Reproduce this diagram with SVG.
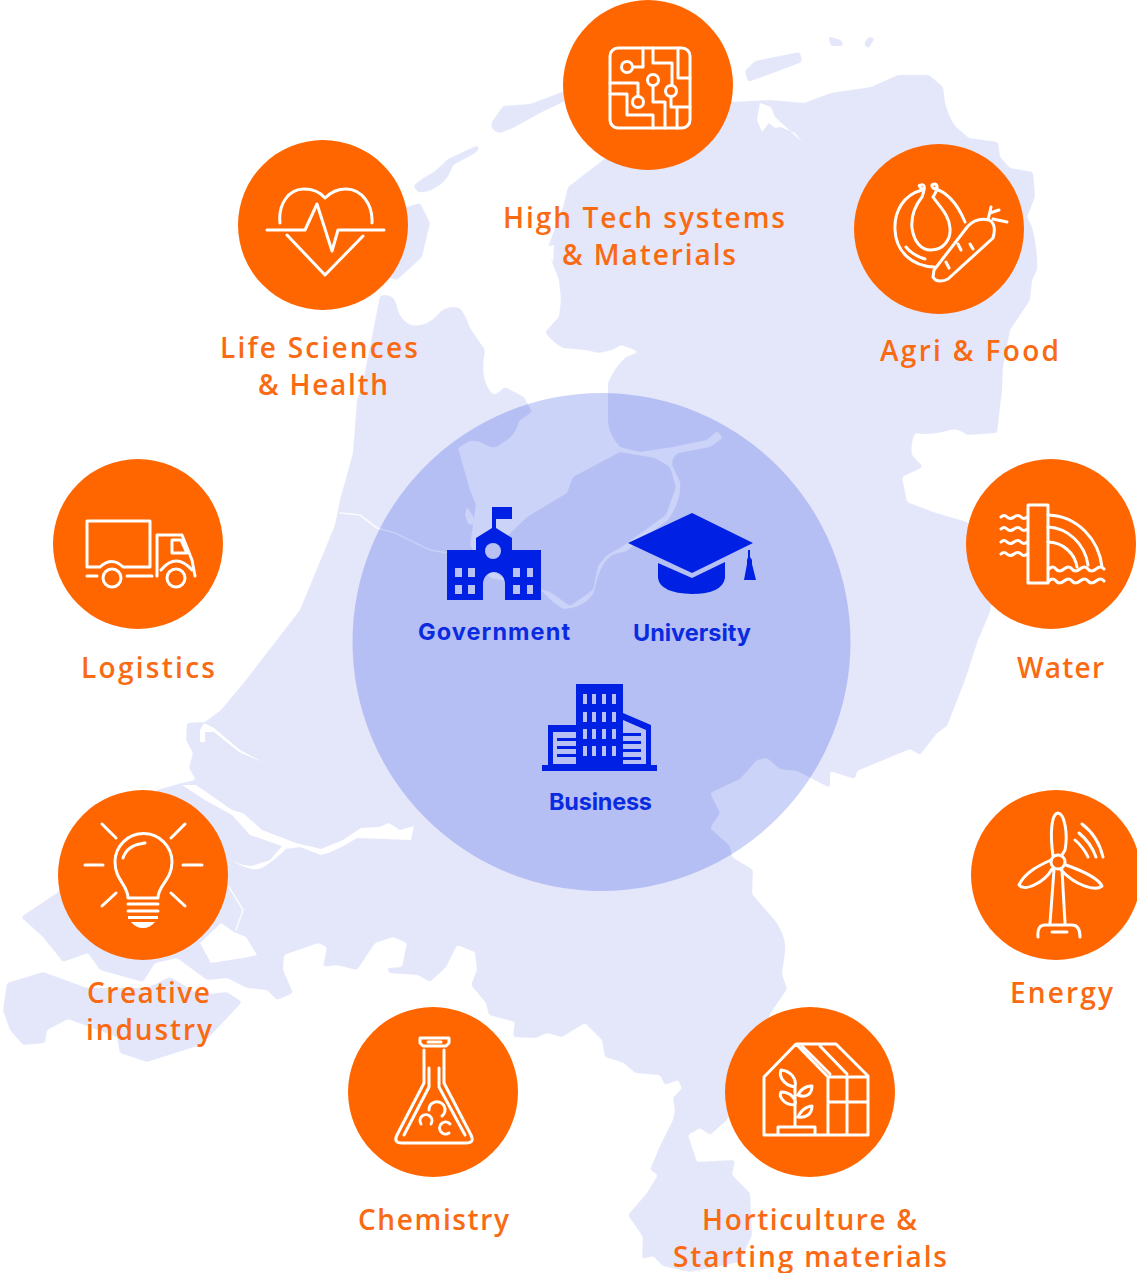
<svg xmlns="http://www.w3.org/2000/svg" width="1137" height="1273" viewBox="0 0 1137 1273">
<defs>
<filter id="round" x="-5%" y="-5%" width="110%" height="110%" color-interpolation-filters="sRGB">
<feGaussianBlur stdDeviation="1.6"/>
<feComponentTransfer><feFuncA type="linear" slope="3.500" intercept="-1.250"/></feComponentTransfer>
</filter>
<filter id="soft" x="-10%" y="-10%" width="120%" height="120%"><feGaussianBlur stdDeviation=".7"/></filter>
</defs>
<style>
.land{fill:#e4e7fa;filter:url(#round)}
.water{fill:#fff;filter:url(#soft)}
.rim{fill:none;stroke:#fff;stroke-opacity:.8;stroke-width:1.6;stroke-linejoin:round;stroke-linecap:round}
.disc{fill:#ff6600}
.i{fill:none;stroke:#fff;stroke-width:3;stroke-linecap:round;stroke-linejoin:round}
.iw{fill:#fff}
.lb{font-family:"Open Sans","Lato",sans-serif;font-weight:600;font-size:28px;fill:#f96a12}
.cl{font-family:"Inter","Roboto",sans-serif;font-weight:700;font-size:23.500px;fill:#0a2be0}
.b{fill:#0021e3}
.h{fill:#b8c0f4}
</style>
<g id="map">
<path class="land" d="M380,296 Q392,292 396,303 Q398,318 410,325 Q428,328 441,311 Q452,304 461,309 Q467,318 470,328 L485,350 Q482,365 484,378 Q488,392 495,395 L505,387 L524,397 L532,412 L519,421 Q516,436 502,443 Q495,450 488,446 Q478,440 470,441 Q462,445 458,448 L470,490 L476,505 L473,525 L470,545 L490,578 L520,583 L543,592 Q552,602 563,609 Q585,608 594,592 Q598,572 604,563 Q612,552 625,552 L668,520 Q682,500 680,482 L672,465 Q672,456 678,453 L710,447 L723,438 L717,431 L707,440 L673,447 L640,452 L620,447 Q610,436 608,423 L608,383 Q614,368 626,357 L639,352 L630,348 L621,345 L612,350 L599,353 L585,350 L563,348 Q552,342 545,332 L559,317 L561,300 L559,280 L552,262 L548,247 L563,207 L568,187 L603,160 L650,120 L700,100 L731,102 L769,100 L804,103 L831,93 L871,87 L898,75 L929,75 L943,87 L945,103 Q950,120 956,127 L969,138 L998,142 L1000,157 L1010,168 L1033,172 L1035,197 L1027,217 L1032,227 Q1038,250 1037,270 L1032,280 L1030,300 L1010,330 L1003,367 L1002,390 L997,433 L967,435 Q958,428 950,430 Q930,436 915,433 Q910,445 912,455 L923,467 L902,477 L907,502 L933,512 L967,522 L1000,560 L990,612 L978,640 L965,680 L947,726 L937,733 L920,755 L910,749 L857,771 L855,779 L830,771 L830,788 L797,771 L780,769 L767,758 L757,760 L740,779 L710,793 L720,813 L710,828 L730,846 L732,857 L753,870 L752,894 L777,923 Q787,940 785,952 L782,974 L787,989 L770,1014 L727,1120 L710,1135 L700,1128 L688,1135 L697,1162 L735,1160 L732,1175 L750,1193 L752,1235 L740,1262 L690,1272 L663,1266 L653,1256 L642,1259 L643,1237 L628,1215 L647,1193 L658,1175 L650,1170 L660,1146 L673,1120 L675,1110 L673,1098 L682,1088 L678,1080 L665,1085 L660,1075 L635,1073 L624,1063 L605,1057 L602,1040 L585,1023 L562,1037 L547,1033 L536,1038 L513,1037 L515,1022 L489,1015 L486,1003 L471,985 L477,970 L475,952 L457,945 L446,967 L430,982 L418,975 L389,973 L387,968 L402,967 L407,943 L393,937 L375,943 L357,970 L337,965 L323,967 L327,947 L318,943 L284,955 L283,970 L293,993 L277,1000 L267,990 L247,988 L227,978 L207,980 L177,958 L155,963 L143,982 L100,970 L88,953 L63,962 L43,937 L21,917 L57,893 L100,850 L157,790 L182,783 L196,780 L189,768 L193,753 L186,740 L187,723 L205,722 L221,710 L246,680 L300,610 L335,525 L340,500 L353,453 L357,400 L362,387 Z"/>
<path class="land" d="M7,983 L43,972 L87,988 L147,988 L170,977 L200,995 L227,992 L242,1002 L213,1033 L200,1045 L147,1062 L120,1053 L117,1037 L68,1019 L47,1030 L45,1043 L23,1045 L10,1030 L3,1010 Z"/>
<path class="land" d="M407,207 L420,203 L430,223 L422,257 L397,280 L360,270 L390,200 Z"/>
<path class="land" d="M413,186 Q425,176 434,172 Q442,165 448,159 L478,145 Q481,151 470,156 L453,165 Q449,178 441,184 Q428,194 418,192 Z"/>
<path class="land" d="M492,122 L503,106 L530,104 L565,91 L565,101 L540,113 L513,128 L500,133 Q489,130 492,122 Z"/>
<path class="land" d="M745,71 L755,61 L800,52 L802,62 L773,73 L748,82 Z"/>
<path class="land" d="M828,36 L841,40 L844,46 L831,46 Z"/>
<path class="land" d="M868,37 L875,38 L868,49 L864,44 Z"/>
<path class="land" d="M620,452 L655,458 L670,467 L676,487 L666,515 L623,546 L606,556 L598,566 L593,590 L570,606 L550,592 L505,578 L480,565 L495,548 L527,517 L567,493 L573,477 Z"/>
<path class="water" d="M200,943 L221,923 L234,932 L246,937 L257,955 L243,958 L211,963 Z"/>
<path class="water" d="M228,858 Q250,873 262,868 Q275,860 286,849 L300,847 L321,855 Q335,852 357,838 L411,840 L414,826 L400,830 L389,823 L379,827 L361,828 L343,840 L321,849 L296,843 L262,830 L243,813 L232,810 L196,785 L182,785 L205,800 L232,815 L250,835 L282,846 L270,860 L252,866 Q240,866 228,858 Z"/>
<path class="water" d="M760,103 L757,120 L762,132 L769,123 L775,128 L780,127 L795,133 L802,142 L786,127 L775,117 L771,107 Z"/>
<path class="water" d="M545,247 L554,245 L553,262 Z"/>
<path class="water" d="M204,723 L200,730 L200,742 L205,742 L205,732 L214,732 L239,752 L262,762 L240,750 L214,728 Z"/>
<path class="rim" d="M340,513 L360,515 L377,528 L395,533 L430,550 L447,553"/>
<path class="rim" d="M229,887 L243,910 L236,930"/>
<path class="water" d="M467,507 L473,516 L476,525 L468,524 L465,515 Z"/>
</g>
<circle id="core-circle" cx="601.5" cy="642" r="249" fill="#0023dc" fill-opacity=".2"/>
<g id="government">
<path class="b" d="M493,507 H512 V519 H496 V528 L512,538 V550 H541 V600 H505 V584 A11,12 0 0 0 483,584 V600 H447 V550 H476 V538 L492,528 V507 Z"/>
<circle class="h" cx="493" cy="551" r="8"/>
<path class="h" d="M455,568h7v9h-7zM468,568h7v9h-7zM513,568h7v9h-7zM527,568h6v9h-6zM455,585h7v9h-7zM468,585h7v9h-7zM513,585h7v9h-7zM527,585h6v9h-6z"/>
<text class="cl" x="418" y="640" textLength="152" lengthAdjust="spacing">Government</text>
</g>
<g id="university">
<path class="b" d="M628,543 L692,513 L753,543 L692,573 Z"/>
<path class="b" d="M658,563 L692,578 L725,562 V578 Q722,594 692,594 Q660,593 658,578 Z"/>
<path class="b" d="M748,550 H750 V557 L752,560 V564 L756,580 H744 L747,564 V560 L748,557 Z"/>
<text class="cl" x="633" y="641" textLength="118" lengthAdjust="spacing">University</text>
</g>
<g id="business">
<path class="b" d="M542,765 H548 V725 H576 V684 H623 V713 L651,725 V765 H657 V771 H542 Z"/>
<path class="h" d="M553,732 H576 V764 H553 Z M623,720 L646,730 V764 H623 Z"/>
<path class="b" d="M557,738h19v3h-19zM557,746h19v3h-19zM557,754h19v3h-19zM623,733h18v3h-18zM623,741h18v3h-18zM623,749h18v3h-18zM623,757h18v3h-18z"/>
<path class="h" d="M583,694h4v10h-4zM592,694h4v10h-4zM602,694h4v10h-4zM612,694h4v10h-4zM583,712h4v10h-4zM592,712h4v10h-4zM602,712h4v10h-4zM612,712h4v10h-4zM583,729h4v10h-4zM592,729h4v10h-4zM602,729h4v10h-4zM612,729h4v10h-4zM583,746h4v10h-4zM592,746h4v10h-4zM602,746h4v10h-4zM612,746h4v10h-4z"/>
<text class="cl" x="549" y="810" textLength="103" lengthAdjust="spacing">Business</text>
</g>
<g id="high-tech">
<circle class="disc" cx="648" cy="85" r="85"/>
<rect class="i" x="610" y="48" width="80" height="80" rx="8"/>
<circle class="i" cx="627" cy="67" r="5.5"/><circle class="i" cx="653" cy="80" r="5.5"/><circle class="i" cx="671" cy="91" r="5.5"/><circle class="i" cx="638" cy="102" r="5.5"/>
<path class="i" d="M633,67 H643 V48 M653,48 V63 H672 V85 M678,48 V78 H690 M653,86 V102 H665 V128 M610,83 H638 V96 M610,94 H627 V115 H653 V128 M671,97 V107 H690 M677,107 V128"/>
<text class="lb" x="503" y="228" textLength="282" lengthAdjust="spacing">High Tech systems</text>
<text class="lb" x="562" y="265" textLength="174" lengthAdjust="spacing">&amp; Materials</text>
</g>
<g id="life-sciences">
<circle class="disc" cx="323" cy="225" r="85"/>
<path class="i" d="M280,223 C278,205 288,189 304,189 C314,189 320,192 325,198 C331,192 337,189 346,189 C362,189 373,205 372,223 M267,230 H305 L317,204 L332,251 L338,230 H384 M287,235 L325,275 L363,236"/>
<text class="lb" x="220" y="358" textLength="198" lengthAdjust="spacing">Life Sciences</text>
<text class="lb" x="258" y="395" textLength="130" lengthAdjust="spacing">&amp; Health</text>
</g>
<g id="agri-food">
<circle class="disc" cx="939" cy="229" r="85"/>
<path class="i" d="M922,190 C903,195 894,212 895,230 C896,252 912,266 934,267 M922,197 C914,207 911,217 912,228 C914,242 921,250 931,250 C943,250 951,240 950,228 C949,215 940,207 933,197 M933,188 C948,192 958,205 965,222 M922,189 Q917,185 921,185 Q927,183 922,197 M933,188 Q930,184 935,184 Q940,186 933,197 M906,247 Q912,255 925,259"/>
<path class="i" d="M934,270 L968,226 Q977,217 989,220 Q997,224 993,238 L948,279 Q937,284 933,277 Z M988,220 L991,207 M993,219 L1007,222 M990,213 L999,210 M958,244 L961,250 M970,244 L973,249 M946,262 L949,268"/>
<text class="lb" x="880" y="361" textLength="179" lengthAdjust="spacing">Agri &amp; Food</text>
</g>
<g id="logistics">
<circle class="disc" cx="138" cy="544" r="85"/>
<path class="i" d="M100,567 H87 V521 H150 V567 H123 Q112,556 100,567 M87,576 H97 M127,576 H152 M157,576 V535 H182 L192,560 L195,576 M172,540 H181 L187,553 H172 Z M161,570 Q176,552 192,570"/>
<circle class="i" cx="112" cy="578" r="9"/><circle class="i" cx="176" cy="578" r="9"/>
<text class="lb" x="81" y="678" textLength="134" lengthAdjust="spacing">Logistics</text>
</g>
<g id="water-node">
<circle class="disc" cx="1051" cy="544" r="85"/>
<rect class="i" x="1028" y="505" width="20" height="78"/>
<path class="i" d="M1048,515 C1078,516 1099,540 1102,567 M1048,527 C1068,528 1085,544 1088,565 M1048,542 C1062,542 1075,553 1077,567 M1001,517 q3,-3 6,0 t7,0 t7,0 t6,0 M1001,529 q3,-3 6,0 t7,0 t7,0 t6,0 M1001,542 q3,-3 6,0 t7,0 t7,0 t6,0 M1001,554 q3,-3 6,0 t7,0 t7,0 t6,0 M1049,569 q4,-4 7,0 t8,0 t8,0 t8,0 t8,0 t8,0 t8,0 M1049,581 q4,-4 7,0 t8,0 t8,0 t8,0 t8,0 t8,0 t8,0"/>
<text class="lb" x="1017" y="678" textLength="87" lengthAdjust="spacing">Water</text>
</g>
<g id="creative">
<circle class="disc" cx="143" cy="875" r="85"/>
<path class="i" d="M128,898 C128,885 115,880 115,862 A28.500,28.500 0 1 1 172,862 C172,880 158,885 158,898 Z M123,858 Q127,845 145,843 M85,865 H103 M183,865 H202 M102,824 L116,838 M185,824 L171,838 M116,893 L102,906 M171,893 L185,906 M128,904 H158 M128,911 H158"/>
<path class="iw" d="M128,916 H158 V919 H128 Z M131,922 H155 Q150,928 143,928 Q136,928 131,922 Z"/>
<text class="lb" x="87" y="1003" textLength="123" lengthAdjust="spacing">Creative</text>
<text class="lb" x="86" y="1040" textLength="126" lengthAdjust="spacing">industry</text>
</g>
<g id="energy">
<circle class="disc" cx="1056" cy="875" r="85"/>
<circle class="i" cx="1058" cy="862" r="7"/>
<path class="i" d="M1053,856 C1050,835 1051,814 1058,813 C1065,814 1068,835 1065,850 L1062,855 M1051,860 C1040,865 1025,872 1019,885 C1025,892 1045,882 1052,869 M1066,865 C1080,870 1098,878 1102,886 C1095,892 1075,885 1061,870 M1054,870 L1050,923 M1062,870 L1065,923 M1038,937 Q1037,925 1045,925 H1072 Q1080,925 1080,937 M1052,932 H1067 M1075,840 Q1084,848 1088,857 M1079,833 Q1091,843 1096,857 M1082,824 Q1098,836 1103,857"/>
<text class="lb" x="1010" y="1003" textLength="103" lengthAdjust="spacing">Energy</text>
</g>
<g id="chemistry">
<circle class="disc" cx="433" cy="1092" r="85"/>
<path class="i" d="M420,1038 H449 V1043 L446,1046 H423 L420,1043 Z M428,1042 H441 M424,1050 V1083 L397,1135 Q393,1143 402,1143 H466 Q475,1143 471,1135 L444,1083 V1050 M429,1068 V1087 L404,1135 M439,1068 V1087 L465,1135 M429,1110 A8,8 0 1 1 442,1116 M421,1124 A6,6 0 1 1 431,1124 M449,1133 A6,6 0 1 1 450,1124"/>
<text class="lb" x="358" y="1230" textLength="151" lengthAdjust="spacing">Chemistry</text>
</g>
<g id="horticulture">
<circle class="disc" cx="810" cy="1092" r="85"/>
<path class="i" d="M764,1135 V1077 L796,1044 H836 L868,1076 V1135 Z M796,1044 L828,1077 H868 M802,1046 L830,1074 M820,1046 L847,1074 M828,1077 V1135 M847,1077 V1135 M828,1102 H868 M778,1135 V1127 H815 V1135 M795,1127 V1087 M795,1087 C782,1085 779,1075 781,1070 C791,1071 797,1079 795,1087 M795,1105 C782,1105 779,1095 781,1092 C791,1092 797,1100 795,1105 M798,1095 C803,1085 812,1086 812,1086 C812,1095 805,1098 798,1095 M798,1117 C803,1106 812,1106 812,1106 C812,1115 805,1118 798,1117"/>
<text class="lb" x="702" y="1230" textLength="215" lengthAdjust="spacing">Horticulture &amp;</text>
<text class="lb" x="673" y="1267" textLength="274" lengthAdjust="spacing">Starting materials</text>
</g>
</svg>
